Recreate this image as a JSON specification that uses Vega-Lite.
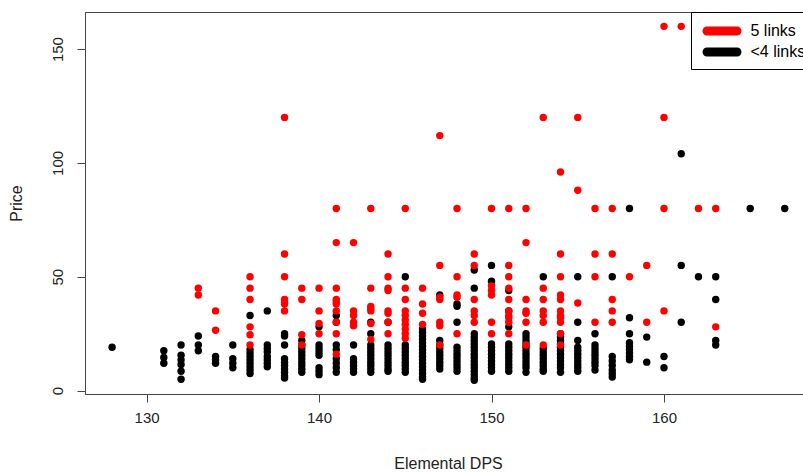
{
  "$schema": "https://vega.github.io/schema/vega-lite/v6.json",
  "width": 718,
  "height": 382,
  "autosize": {"type": "none"},
  "padding": {"left": 85, "top": 12, "right": 0, "bottom": 78},
  "background": "white",
  "config": {"view": {"stroke": "#444", "strokeWidth": 1}, "font": "Liberation Sans"},
  "data": {"values": [
    {"dps":128,"price":19,"links":"<4 links"},
    {"dps":131,"price":17.5,"links":"<4 links"},{"dps":131,"price":14.5,"links":"<4 links"},{"dps":131,"price":12,"links":"<4 links"},
    {"dps":132,"price":20,"links":"<4 links"},{"dps":132,"price":15.5,"links":"<4 links"},{"dps":132,"price":13.5,"links":"<4 links"},{"dps":132,"price":11.5,"links":"<4 links"},{"dps":132,"price":8.5,"links":"<4 links"},{"dps":132,"price":5,"links":"<4 links"},
    {"dps":133,"price":24,"links":"<4 links"},{"dps":133,"price":20,"links":"<4 links"},{"dps":133,"price":17.5,"links":"<4 links"},
    {"dps":134,"price":15,"links":"<4 links"},{"dps":134,"price":13.5,"links":"<4 links"},{"dps":134,"price":12,"links":"<4 links"},
    {"dps":135,"price":20,"links":"<4 links"},{"dps":135,"price":14,"links":"<4 links"},{"dps":135,"price":12,"links":"<4 links"},{"dps":135,"price":10,"links":"<4 links"},
    {"dps":136,"price":33,"links":"<4 links"},{"dps":136,"price":18,"links":"<4 links"},{"dps":136,"price":16.5,"links":"<4 links"},{"dps":136,"price":15,"links":"<4 links"},{"dps":136,"price":13.5,"links":"<4 links"},{"dps":136,"price":12,"links":"<4 links"},{"dps":136,"price":10.5,"links":"<4 links"},{"dps":136,"price":9,"links":"<4 links"},{"dps":136,"price":7.5,"links":"<4 links"},
    {"dps":137,"price":35,"links":"<4 links"},{"dps":137,"price":20,"links":"<4 links"},{"dps":137,"price":18.5,"links":"<4 links"},{"dps":137,"price":17,"links":"<4 links"},{"dps":137,"price":15,"links":"<4 links"},{"dps":137,"price":13.5,"links":"<4 links"},{"dps":137,"price":12,"links":"<4 links"},{"dps":137,"price":10.5,"links":"<4 links"},
    {"dps":138,"price":25,"links":"<4 links"},{"dps":138,"price":24,"links":"<4 links"},{"dps":138,"price":20,"links":"<4 links"},{"dps":138,"price":14,"links":"<4 links"},{"dps":138,"price":12.5,"links":"<4 links"},{"dps":138,"price":11,"links":"<4 links"},{"dps":138,"price":9.5,"links":"<4 links"},{"dps":138,"price":8,"links":"<4 links"},{"dps":138,"price":6.5,"links":"<4 links"},{"dps":138,"price":5.5,"links":"<4 links"},
    {"dps":139,"price":22,"links":"<4 links"},{"dps":139,"price":20,"links":"<4 links"},{"dps":139,"price":18.5,"links":"<4 links"},{"dps":139,"price":17,"links":"<4 links"},{"dps":139,"price":15.5,"links":"<4 links"},{"dps":139,"price":14,"links":"<4 links"},{"dps":139,"price":12.5,"links":"<4 links"},{"dps":139,"price":11,"links":"<4 links"},{"dps":139,"price":9.5,"links":"<4 links"},{"dps":139,"price":8,"links":"<4 links"},
    {"dps":140,"price":28,"links":"<4 links"},{"dps":140,"price":20,"links":"<4 links"},{"dps":140,"price":18.5,"links":"<4 links"},{"dps":140,"price":17,"links":"<4 links"},{"dps":140,"price":15.5,"links":"<4 links"},{"dps":140,"price":10,"links":"<4 links"},{"dps":140,"price":8.5,"links":"<4 links"},{"dps":140,"price":7,"links":"<4 links"},
    {"dps":141,"price":33,"links":"<4 links"},{"dps":141,"price":30,"links":"<4 links"},{"dps":141,"price":20,"links":"<4 links"},{"dps":141,"price":18,"links":"<4 links"},{"dps":141,"price":14,"links":"<4 links"},{"dps":141,"price":12,"links":"<4 links"},{"dps":141,"price":10,"links":"<4 links"},{"dps":141,"price":8,"links":"<4 links"},
    {"dps":142,"price":20,"links":"<4 links"},{"dps":142,"price":14,"links":"<4 links"},{"dps":142,"price":12.5,"links":"<4 links"},{"dps":142,"price":11,"links":"<4 links"},{"dps":142,"price":9.5,"links":"<4 links"},{"dps":142,"price":8,"links":"<4 links"},
    {"dps":143,"price":30,"links":"<4 links"},{"dps":143,"price":25,"links":"<4 links"},{"dps":143,"price":20,"links":"<4 links"},{"dps":143,"price":18.5,"links":"<4 links"},{"dps":143,"price":17,"links":"<4 links"},{"dps":143,"price":15.5,"links":"<4 links"},{"dps":143,"price":14,"links":"<4 links"},{"dps":143,"price":12.5,"links":"<4 links"},{"dps":143,"price":11,"links":"<4 links"},{"dps":143,"price":9.5,"links":"<4 links"},{"dps":143,"price":8,"links":"<4 links"},
    {"dps":144,"price":30,"links":"<4 links"},{"dps":144,"price":20,"links":"<4 links"},{"dps":144,"price":18.5,"links":"<4 links"},{"dps":144,"price":17,"links":"<4 links"},{"dps":144,"price":15.5,"links":"<4 links"},{"dps":144,"price":14,"links":"<4 links"},{"dps":144,"price":12.5,"links":"<4 links"},{"dps":144,"price":11,"links":"<4 links"},{"dps":144,"price":9.5,"links":"<4 links"},{"dps":144,"price":8.5,"links":"<4 links"},
    {"dps":145,"price":50,"links":"<4 links"},{"dps":145,"price":20,"links":"<4 links"},{"dps":145,"price":18.5,"links":"<4 links"},{"dps":145,"price":17,"links":"<4 links"},{"dps":145,"price":15.5,"links":"<4 links"},{"dps":145,"price":14,"links":"<4 links"},{"dps":145,"price":12.5,"links":"<4 links"},{"dps":145,"price":11,"links":"<4 links"},{"dps":145,"price":9.5,"links":"<4 links"},{"dps":145,"price":8,"links":"<4 links"},
    {"dps":146,"price":27,"links":"<4 links"},{"dps":146,"price":25.5,"links":"<4 links"},{"dps":146,"price":24,"links":"<4 links"},{"dps":146,"price":22.5,"links":"<4 links"},{"dps":146,"price":21,"links":"<4 links"},{"dps":146,"price":19.5,"links":"<4 links"},{"dps":146,"price":18,"links":"<4 links"},{"dps":146,"price":16.5,"links":"<4 links"},{"dps":146,"price":15,"links":"<4 links"},{"dps":146,"price":13.5,"links":"<4 links"},{"dps":146,"price":12,"links":"<4 links"},{"dps":146,"price":10.5,"links":"<4 links"},{"dps":146,"price":9,"links":"<4 links"},{"dps":146,"price":7.5,"links":"<4 links"},{"dps":146,"price":6,"links":"<4 links"},{"dps":146,"price":5,"links":"<4 links"},
    {"dps":147,"price":42,"links":"<4 links"},{"dps":147,"price":22,"links":"<4 links"},{"dps":147,"price":20,"links":"<4 links"},{"dps":147,"price":18.5,"links":"<4 links"},{"dps":147,"price":17,"links":"<4 links"},{"dps":147,"price":15.5,"links":"<4 links"},{"dps":147,"price":14,"links":"<4 links"},{"dps":147,"price":12.5,"links":"<4 links"},{"dps":147,"price":11,"links":"<4 links"},{"dps":147,"price":9.5,"links":"<4 links"},
    {"dps":148,"price":38,"links":"<4 links"},{"dps":148,"price":37,"links":"<4 links"},{"dps":148,"price":30,"links":"<4 links"},{"dps":148,"price":19,"links":"<4 links"},{"dps":148,"price":17.5,"links":"<4 links"},{"dps":148,"price":16,"links":"<4 links"},{"dps":148,"price":14.5,"links":"<4 links"},{"dps":148,"price":13,"links":"<4 links"},{"dps":148,"price":11.5,"links":"<4 links"},{"dps":148,"price":10,"links":"<4 links"},{"dps":148,"price":8.5,"links":"<4 links"},
    {"dps":149,"price":53,"links":"<4 links"},{"dps":149,"price":45,"links":"<4 links"},{"dps":149,"price":25,"links":"<4 links"},{"dps":149,"price":23.5,"links":"<4 links"},{"dps":149,"price":22,"links":"<4 links"},{"dps":149,"price":20.5,"links":"<4 links"},{"dps":149,"price":19,"links":"<4 links"},{"dps":149,"price":17.5,"links":"<4 links"},{"dps":149,"price":16,"links":"<4 links"},{"dps":149,"price":14.5,"links":"<4 links"},{"dps":149,"price":13,"links":"<4 links"},{"dps":149,"price":11.5,"links":"<4 links"},{"dps":149,"price":10,"links":"<4 links"},{"dps":149,"price":8.5,"links":"<4 links"},{"dps":149,"price":7,"links":"<4 links"},{"dps":149,"price":5.5,"links":"<4 links"},{"dps":149,"price":4.5,"links":"<4 links"},
    {"dps":150,"price":55,"links":"<4 links"},{"dps":150,"price":48,"links":"<4 links"},{"dps":150,"price":20.5,"links":"<4 links"},{"dps":150,"price":19,"links":"<4 links"},{"dps":150,"price":17.5,"links":"<4 links"},{"dps":150,"price":16,"links":"<4 links"},{"dps":150,"price":14.5,"links":"<4 links"},{"dps":150,"price":13,"links":"<4 links"},{"dps":150,"price":11.5,"links":"<4 links"},{"dps":150,"price":10,"links":"<4 links"},{"dps":150,"price":8.5,"links":"<4 links"},
    {"dps":151,"price":44,"links":"<4 links"},{"dps":151,"price":35,"links":"<4 links"},{"dps":151,"price":28,"links":"<4 links"},{"dps":151,"price":20.5,"links":"<4 links"},{"dps":151,"price":19,"links":"<4 links"},{"dps":151,"price":17.5,"links":"<4 links"},{"dps":151,"price":16,"links":"<4 links"},{"dps":151,"price":14.5,"links":"<4 links"},{"dps":151,"price":13,"links":"<4 links"},{"dps":151,"price":11.5,"links":"<4 links"},{"dps":151,"price":10,"links":"<4 links"},{"dps":151,"price":8.5,"links":"<4 links"},
    {"dps":152,"price":25,"links":"<4 links"},{"dps":152,"price":23.5,"links":"<4 links"},{"dps":152,"price":22,"links":"<4 links"},{"dps":152,"price":20.5,"links":"<4 links"},{"dps":152,"price":19,"links":"<4 links"},{"dps":152,"price":17.5,"links":"<4 links"},{"dps":152,"price":16,"links":"<4 links"},{"dps":152,"price":14.5,"links":"<4 links"},{"dps":152,"price":13,"links":"<4 links"},{"dps":152,"price":11.5,"links":"<4 links"},{"dps":152,"price":10,"links":"<4 links"},{"dps":152,"price":8,"links":"<4 links"},
    {"dps":153,"price":50,"links":"<4 links"},{"dps":153,"price":18.5,"links":"<4 links"},{"dps":153,"price":17,"links":"<4 links"},{"dps":153,"price":15.5,"links":"<4 links"},{"dps":153,"price":14,"links":"<4 links"},{"dps":153,"price":12.5,"links":"<4 links"},{"dps":153,"price":11,"links":"<4 links"},{"dps":153,"price":9.5,"links":"<4 links"},{"dps":153,"price":8.5,"links":"<4 links"},
    {"dps":154,"price":25,"links":"<4 links"},{"dps":154,"price":23.5,"links":"<4 links"},{"dps":154,"price":22,"links":"<4 links"},{"dps":154,"price":20.5,"links":"<4 links"},{"dps":154,"price":19,"links":"<4 links"},{"dps":154,"price":17.5,"links":"<4 links"},{"dps":154,"price":16,"links":"<4 links"},{"dps":154,"price":14.5,"links":"<4 links"},{"dps":154,"price":13,"links":"<4 links"},{"dps":154,"price":11.5,"links":"<4 links"},{"dps":154,"price":10,"links":"<4 links"},{"dps":154,"price":8,"links":"<4 links"},
    {"dps":155,"price":50,"links":"<4 links"},{"dps":155,"price":30,"links":"<4 links"},{"dps":155,"price":22,"links":"<4 links"},{"dps":155,"price":19,"links":"<4 links"},{"dps":155,"price":17.5,"links":"<4 links"},{"dps":155,"price":16,"links":"<4 links"},{"dps":155,"price":14.5,"links":"<4 links"},{"dps":155,"price":13,"links":"<4 links"},{"dps":155,"price":11.5,"links":"<4 links"},{"dps":155,"price":10,"links":"<4 links"},{"dps":155,"price":8.5,"links":"<4 links"},
    {"dps":156,"price":25,"links":"<4 links"},{"dps":156,"price":20,"links":"<4 links"},{"dps":156,"price":18.5,"links":"<4 links"},{"dps":156,"price":17,"links":"<4 links"},{"dps":156,"price":15.5,"links":"<4 links"},{"dps":156,"price":14,"links":"<4 links"},{"dps":156,"price":12.5,"links":"<4 links"},{"dps":156,"price":11,"links":"<4 links"},{"dps":156,"price":9,"links":"<4 links"},
    {"dps":157,"price":50,"links":"<4 links"},{"dps":157,"price":15,"links":"<4 links"},{"dps":157,"price":13,"links":"<4 links"},{"dps":157,"price":11,"links":"<4 links"},{"dps":157,"price":9,"links":"<4 links"},{"dps":157,"price":7.5,"links":"<4 links"},{"dps":157,"price":6,"links":"<4 links"},
    {"dps":158,"price":80,"links":"<4 links"},{"dps":158,"price":32,"links":"<4 links"},{"dps":158,"price":25,"links":"<4 links"},{"dps":158,"price":21,"links":"<4 links"},{"dps":158,"price":19.5,"links":"<4 links"},{"dps":158,"price":18,"links":"<4 links"},{"dps":158,"price":16.5,"links":"<4 links"},{"dps":158,"price":15,"links":"<4 links"},{"dps":158,"price":13.5,"links":"<4 links"},
    {"dps":159,"price":23.5,"links":"<4 links"},{"dps":159,"price":12.5,"links":"<4 links"},
    {"dps":160,"price":15,"links":"<4 links"},{"dps":160,"price":10,"links":"<4 links"},
    {"dps":161,"price":104,"links":"<4 links"},{"dps":161,"price":55,"links":"<4 links"},{"dps":161,"price":30,"links":"<4 links"},
    {"dps":162,"price":50,"links":"<4 links"},
    {"dps":163,"price":50,"links":"<4 links"},{"dps":163,"price":40,"links":"<4 links"},{"dps":163,"price":22,"links":"<4 links"},{"dps":163,"price":20,"links":"<4 links"},
    {"dps":165,"price":80,"links":"<4 links"},
    {"dps":167,"price":80,"links":"<4 links"},
    {"dps":133,"price":45,"links":"5 links"},{"dps":133,"price":42,"links":"5 links"},
    {"dps":134,"price":35,"links":"5 links"},{"dps":134,"price":26.5,"links":"5 links"},
    {"dps":136,"price":50,"links":"5 links"},{"dps":136,"price":45,"links":"5 links"},{"dps":136,"price":40,"links":"5 links"},{"dps":136,"price":28,"links":"5 links"},{"dps":136,"price":24.5,"links":"5 links"},{"dps":136,"price":20,"links":"5 links"},
    {"dps":138,"price":120,"links":"5 links"},{"dps":138,"price":60,"links":"5 links"},{"dps":138,"price":50,"links":"5 links"},{"dps":138,"price":40,"links":"5 links"},{"dps":138,"price":39,"links":"5 links"},{"dps":138,"price":38,"links":"5 links"},{"dps":138,"price":35,"links":"5 links"},
    {"dps":139,"price":45,"links":"5 links"},{"dps":139,"price":40,"links":"5 links"},{"dps":139,"price":24.5,"links":"5 links"},{"dps":139,"price":20,"links":"5 links"},
    {"dps":140,"price":45,"links":"5 links"},{"dps":140,"price":35,"links":"5 links"},{"dps":140,"price":29.5,"links":"5 links"},{"dps":140,"price":25,"links":"5 links"},
    {"dps":141,"price":80,"links":"5 links"},{"dps":141,"price":65,"links":"5 links"},{"dps":141,"price":45,"links":"5 links"},{"dps":141,"price":40,"links":"5 links"},{"dps":141,"price":39,"links":"5 links"},{"dps":141,"price":38,"links":"5 links"},{"dps":141,"price":35,"links":"5 links"},{"dps":141,"price":30,"links":"5 links"},{"dps":141,"price":25,"links":"5 links"},{"dps":141,"price":16,"links":"5 links"},
    {"dps":142,"price":65,"links":"5 links"},{"dps":142,"price":35,"links":"5 links"},{"dps":142,"price":33,"links":"5 links"},{"dps":142,"price":30,"links":"5 links"},{"dps":142,"price":28.5,"links":"5 links"},
    {"dps":143,"price":80,"links":"5 links"},{"dps":143,"price":45,"links":"5 links"},{"dps":143,"price":37,"links":"5 links"},{"dps":143,"price":36,"links":"5 links"},{"dps":143,"price":35,"links":"5 links"},{"dps":143,"price":29.5,"links":"5 links"},{"dps":143,"price":22.5,"links":"5 links"},
    {"dps":144,"price":60,"links":"5 links"},{"dps":144,"price":50,"links":"5 links"},{"dps":144,"price":45,"links":"5 links"},{"dps":144,"price":44,"links":"5 links"},{"dps":144,"price":35,"links":"5 links"},{"dps":144,"price":34,"links":"5 links"},{"dps":144,"price":30,"links":"5 links"},{"dps":144,"price":25,"links":"5 links"},
    {"dps":145,"price":80,"links":"5 links"},{"dps":145,"price":45,"links":"5 links"},{"dps":145,"price":40,"links":"5 links"},{"dps":145,"price":35,"links":"5 links"},{"dps":145,"price":33,"links":"5 links"},{"dps":145,"price":31,"links":"5 links"},{"dps":145,"price":29,"links":"5 links"},{"dps":145,"price":27,"links":"5 links"},{"dps":145,"price":25,"links":"5 links"},{"dps":145,"price":23,"links":"5 links"},
    {"dps":146,"price":45,"links":"5 links"},{"dps":146,"price":38,"links":"5 links"},{"dps":146,"price":34,"links":"5 links"},{"dps":146,"price":29,"links":"5 links"},
    {"dps":147,"price":112,"links":"5 links"},{"dps":147,"price":55,"links":"5 links"},{"dps":147,"price":41,"links":"5 links"},{"dps":147,"price":40,"links":"5 links"},{"dps":147,"price":30,"links":"5 links"},{"dps":147,"price":28.5,"links":"5 links"},{"dps":147,"price":20,"links":"5 links"},
    {"dps":148,"price":80,"links":"5 links"},{"dps":148,"price":50,"links":"5 links"},{"dps":148,"price":42,"links":"5 links"},{"dps":148,"price":41,"links":"5 links"},{"dps":148,"price":25,"links":"5 links"},
    {"dps":149,"price":60,"links":"5 links"},{"dps":149,"price":55,"links":"5 links"},{"dps":149,"price":40,"links":"5 links"},{"dps":149,"price":35,"links":"5 links"},{"dps":149,"price":33,"links":"5 links"},{"dps":149,"price":30,"links":"5 links"},
    {"dps":150,"price":80,"links":"5 links"},{"dps":150,"price":46,"links":"5 links"},{"dps":150,"price":44,"links":"5 links"},{"dps":150,"price":42,"links":"5 links"},{"dps":150,"price":30,"links":"5 links"},{"dps":150,"price":25,"links":"5 links"},
    {"dps":151,"price":80,"links":"5 links"},{"dps":151,"price":55,"links":"5 links"},{"dps":151,"price":50,"links":"5 links"},{"dps":151,"price":45,"links":"5 links"},{"dps":151,"price":40,"links":"5 links"},{"dps":151,"price":35,"links":"5 links"},{"dps":151,"price":33,"links":"5 links"},{"dps":151,"price":32,"links":"5 links"},{"dps":151,"price":30,"links":"5 links"},{"dps":151,"price":25,"links":"5 links"},
    {"dps":152,"price":80,"links":"5 links"},{"dps":152,"price":65,"links":"5 links"},{"dps":152,"price":40,"links":"5 links"},{"dps":152,"price":35,"links":"5 links"},{"dps":152,"price":34,"links":"5 links"},{"dps":152,"price":30,"links":"5 links"},{"dps":152,"price":20,"links":"5 links"},
    {"dps":153,"price":120,"links":"5 links"},{"dps":153,"price":45,"links":"5 links"},{"dps":153,"price":40,"links":"5 links"},{"dps":153,"price":35,"links":"5 links"},{"dps":153,"price":33,"links":"5 links"},{"dps":153,"price":30,"links":"5 links"},{"dps":153,"price":20,"links":"5 links"},
    {"dps":154,"price":96,"links":"5 links"},{"dps":154,"price":60,"links":"5 links"},{"dps":154,"price":50,"links":"5 links"},{"dps":154,"price":42,"links":"5 links"},{"dps":154,"price":40,"links":"5 links"},{"dps":154,"price":35,"links":"5 links"},{"dps":154,"price":33,"links":"5 links"},{"dps":154,"price":32,"links":"5 links"},{"dps":154,"price":30,"links":"5 links"},{"dps":154,"price":25,"links":"5 links"},{"dps":154,"price":20,"links":"5 links"},
    {"dps":155,"price":120,"links":"5 links"},{"dps":155,"price":88,"links":"5 links"},{"dps":155,"price":38.5,"links":"5 links"},
    {"dps":156,"price":80,"links":"5 links"},{"dps":156,"price":60,"links":"5 links"},{"dps":156,"price":50,"links":"5 links"},{"dps":156,"price":30,"links":"5 links"},
    {"dps":157,"price":80,"links":"5 links"},{"dps":157,"price":60,"links":"5 links"},{"dps":157,"price":40,"links":"5 links"},{"dps":157,"price":35,"links":"5 links"},{"dps":157,"price":30,"links":"5 links"},
    {"dps":158,"price":50,"links":"5 links"},
    {"dps":159,"price":55,"links":"5 links"},{"dps":159,"price":30,"links":"5 links"},
    {"dps":160,"price":160,"links":"5 links"},{"dps":160,"price":120,"links":"5 links"},{"dps":160,"price":80,"links":"5 links"},{"dps":160,"price":35,"links":"5 links"},
    {"dps":161,"price":160,"links":"5 links"},
    {"dps":162,"price":80,"links":"5 links"},
    {"dps":163,"price":80,"links":"5 links"},{"dps":163,"price":28,"links":"5 links"}
  ]},
  "mark": {"type": "point", "filled": true, "opacity": 1, "size": 55, "strokeWidth": 0, "clip": true},
  "encoding": {
    "x": {
      "field": "dps", "type": "quantitative",
      "scale": {"domain": [126.43, 168.06], "nice": false, "zero": false},
      "axis": {
        "values": [130, 140, 150, 160], "grid": false, "title": "Elemental DPS",
        "tickSize": 8, "tickColor": "#444", "domainColor": "#444",
        "labelPadding": 15, "labelBaseline": "middle", "labelFontSize": 15, "labelColor": "#222", "labelFlush": false, "labelFont": "Liberation Sans",
        "titleFontSize": 16, "titleFontWeight": "normal", "titleColor": "#222", "titleFont": "Liberation Sans",
        "titleX": 363, "titleY": 69, "titleBaseline": "middle", "titleAlign": "center"
      }
    },
    "y": {
      "field": "price", "type": "quantitative",
      "scale": {"domain": [-1.5, 166.3], "nice": false, "zero": false},
      "axis": {
        "values": [0, 50, 100, 150], "grid": false, "title": "Price",
        "tickSize": 8, "tickColor": "#444", "domainColor": "#444",
        "labelAngle": 270, "labelAlign": "center", "labelBaseline": "middle",
        "labelPadding": 20, "labelFontSize": 15, "labelColor": "#222", "labelFlush": false, "labelFont": "Liberation Sans",
        "titleFontSize": 16, "titleFontWeight": "normal", "titleColor": "#222", "titleFont": "Liberation Sans",
        "titleX": -69, "titleY": 191, "titleAngle": 270, "titleBaseline": "middle", "titleAlign": "center"
      }
    },
    "color": {
      "field": "links", "type": "nominal",
      "scale": {"domain": ["5 links", "<4 links"], "range": ["#ff0000", "#000000"]},
      "legend": {
        "title": null, "orient": "none", "legendX": 606, "legendY": 0, "direction": "vertical",
        "symbolType": "M-0.3,-0.45 L2.7,-0.45 A0.45,0.45 0 0 1 2.7,0.45 L-0.3,0.45 A0.45,0.45 0 0 1 -0.3,-0.45 Z",
        "symbolSize": 400, "symbolStrokeWidth": 0, "symbolOpacity": 1,
        "labelFontSize": 16, "labelOffset": 30.5, "labelColor": "#000", "labelFont": "Liberation Sans",
        "padding": 9, "rowPadding": 3, "strokeColor": "#000", "fillColor": "white"
      }
    }
  }
}
